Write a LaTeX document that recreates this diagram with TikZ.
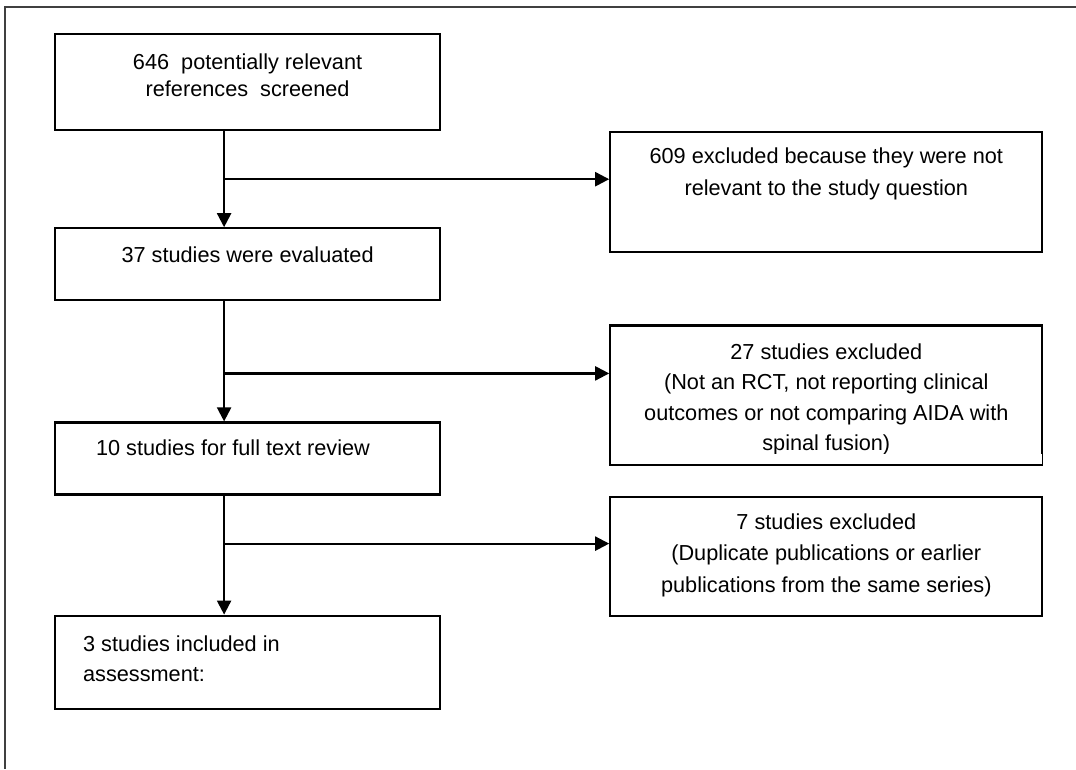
\documentclass[tikz,border=0pt]{standalone}
\usepackage{fontspec}
\setmainfont{Liberation Sans}
\usetikzlibrary{arrows.meta, positioning, calc}

\tikzset{
  flowbox/.style={draw=black, line width=2.2pt, inner sep=0pt},
  flowarrow/.style={draw=black, line width=2.2pt, -{Triangle[width=14pt,length=14pt]}},
}
% height, width, top space, line spacing, text
\newcommand{\boxtext}[5]{\parbox[c][#1][t]{#2}{\fontsize{21.7}{#4}\selectfont\vspace*{#3}#5}}

\begin{document}
\begin{tikzpicture}
\useasboundingbox (0,0) rectangle (1076pt,-769pt);
\draw[line width=1.6pt, black!75] (1076pt,-7pt) -- (5pt,-7pt) -- (5pt,-769pt);

\node[flowbox, anchor=north west] (refs) at (54pt,-33pt) {\boxtext{96pt}{385pt}{20pt}{27pt}{\centering 646\ \ potentially relevant\\references\ \ screened}};
\node[flowbox, below=96pt of refs] (eval) {\boxtext{72pt}{385pt}{18pt}{30pt}{\centering 37 studies were evaluated}};
\node[flowbox, below=120pt of eval] (fulltext) {\boxtext{72pt}{385pt}{17pt}{30pt}{\raggedright\leftskip=41pt 10 studies for full text review}};
\node[flowbox, below=119pt of fulltext] (included) {\boxtext{93pt}{385pt}{20pt}{30pt}{\raggedright\leftskip=28pt 3 studies included in\\assessment:}};

\node[flowbox, right=168pt of refs.south east, anchor=north west] (irrelevant) {\boxtext{120pt}{432pt}{15pt}{32pt}{\centering 609 excluded because they were not\\relevant to the study question}};
\node[flowbox, below=71pt of irrelevant] (notrct) {\boxtext{139pt}{432pt}{18pt}{30.5pt}{\centering 27 studies excluded\\(Not an RCT, not reporting clinical\\outcomes or not comparing AIDA with\\spinal fusion)}};
\node[flowbox, below=30pt of notrct] (duplicate) {\boxtext{119pt}{432pt}{17pt}{31.5pt}{\centering 7 studies excluded\\(Duplicate publications or earlier\\publications from the same series)}};

% last line of the middle box is cut off
\fill[white] ([shift={(1.6pt,1.6pt)}]notrct.south west) rectangle ([shift={(-1.6pt,12pt)}]notrct.south east);

\coordinate (split1) at ([xshift=-23.5pt, yshift=-48pt]refs.south);
\coordinate (split2) at ([xshift=-23.5pt, yshift=-72pt]eval.south);
\coordinate (split3) at ([xshift=-23.5pt, yshift=-48pt]fulltext.south);

\draw[flowarrow] ([xshift=-23.5pt]refs.south) -- ([xshift=-23.5pt]eval.north);
\draw[flowarrow] ([xshift=-23.5pt]eval.south) -- ([xshift=-23.5pt]fulltext.north);
\draw[flowarrow] ([xshift=-23.5pt]fulltext.south) -- ([xshift=-23.5pt]included.north);
\draw[flowarrow] (split1) -- (split1 -| irrelevant.west);
\draw[flowarrow] (split2) -- (split2 -| notrct.west);
\draw[flowarrow] (split3) -- (split3 -| duplicate.west);
\end{tikzpicture}
\end{document}
